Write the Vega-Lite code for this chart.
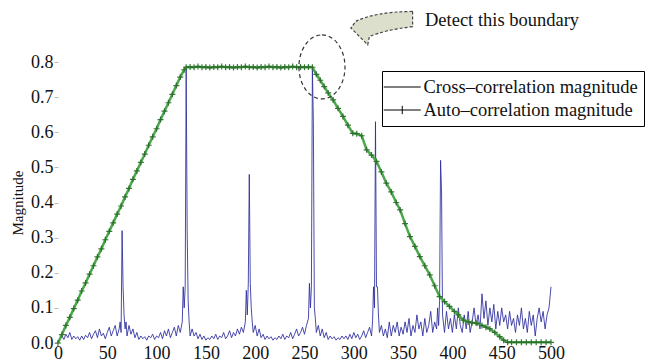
{
  "$schema": "https://vega.github.io/schema/vega-lite/v6.json",
  "autosize": {"type": "none"},
  "width": 493,
  "height": 281,
  "padding": {"left": 58, "top": 62, "right": 106, "bottom": 18},
  "background": "white",
  "config": {
    "view": {"stroke": null},
    "font": "Liberation Serif",
    "axis": {"grid": false, "labelFont": "Liberation Serif", "titleFont": "Liberation Serif"}
  },
  "datasets": {
    "lines": [
      {"series":"Cross–correlation magnitude","x":0,"y":0.005},{"series":"Cross–correlation magnitude","x":2,"y":0.012},{"series":"Cross–correlation magnitude","x":4,"y":0.02},{"series":"Cross–correlation magnitude","x":6,"y":0.01},{"series":"Cross–correlation magnitude","x":8,"y":0.025},{"series":"Cross–correlation magnitude","x":10,"y":0.015},{"series":"Cross–correlation magnitude","x":12,"y":0.03},{"series":"Cross–correlation magnitude","x":14,"y":0.01},{"series":"Cross–correlation magnitude","x":16,"y":0.02},{"series":"Cross–correlation magnitude","x":18,"y":0.012},{"series":"Cross–correlation magnitude","x":20,"y":0.018},{"series":"Cross–correlation magnitude","x":22,"y":0.008},{"series":"Cross–correlation magnitude","x":24,"y":0.02},{"series":"Cross–correlation magnitude","x":26,"y":0.01},{"series":"Cross–correlation magnitude","x":28,"y":0.022},{"series":"Cross–correlation magnitude","x":30,"y":0.015},{"series":"Cross–correlation magnitude","x":32,"y":0.03},{"series":"Cross–correlation magnitude","x":34,"y":0.012},{"series":"Cross–correlation magnitude","x":36,"y":0.025},{"series":"Cross–correlation magnitude","x":38,"y":0.035},{"series":"Cross–correlation magnitude","x":40,"y":0.015},{"series":"Cross–correlation magnitude","x":42,"y":0.04},{"series":"Cross–correlation magnitude","x":44,"y":0.02},{"series":"Cross–correlation magnitude","x":46,"y":0.028},{"series":"Cross–correlation magnitude","x":48,"y":0.012},{"series":"Cross–correlation magnitude","x":50,"y":0.03},{"series":"Cross–correlation magnitude","x":52,"y":0.045},{"series":"Cross–correlation magnitude","x":54,"y":0.02},{"series":"Cross–correlation magnitude","x":56,"y":0.035},{"series":"Cross–correlation magnitude","x":58,"y":0.05},{"series":"Cross–correlation magnitude","x":60,"y":0.02},{"series":"Cross–correlation magnitude","x":62,"y":0.04},{"series":"Cross–correlation magnitude","x":63,"y":0.06},{"series":"Cross–correlation magnitude","x":64,"y":0.03},{"series":"Cross–correlation magnitude","x":65,"y":0.32},{"series":"Cross–correlation magnitude","x":66,"y":0.16},{"series":"Cross–correlation magnitude","x":67,"y":0.08},{"series":"Cross–correlation magnitude","x":68,"y":0.04},{"series":"Cross–correlation magnitude","x":69,"y":0.06},{"series":"Cross–correlation magnitude","x":70,"y":0.02},{"series":"Cross–correlation magnitude","x":72,"y":0.05},{"series":"Cross–correlation magnitude","x":74,"y":0.025},{"series":"Cross–correlation magnitude","x":76,"y":0.04},{"series":"Cross–correlation magnitude","x":78,"y":0.015},{"series":"Cross–correlation magnitude","x":80,"y":0.03},{"series":"Cross–correlation magnitude","x":82,"y":0.01},{"series":"Cross–correlation magnitude","x":84,"y":0.02},{"series":"Cross–correlation magnitude","x":86,"y":0.012},{"series":"Cross–correlation magnitude","x":88,"y":0.018},{"series":"Cross–correlation magnitude","x":90,"y":0.008},{"series":"Cross–correlation magnitude","x":92,"y":0.02},{"series":"Cross–correlation magnitude","x":94,"y":0.015},{"series":"Cross–correlation magnitude","x":96,"y":0.025},{"series":"Cross–correlation magnitude","x":98,"y":0.01},{"series":"Cross–correlation magnitude","x":100,"y":0.02},{"series":"Cross–correlation magnitude","x":102,"y":0.015},{"series":"Cross–correlation magnitude","x":104,"y":0.03},{"series":"Cross–correlation magnitude","x":106,"y":0.012},{"series":"Cross–correlation magnitude","x":108,"y":0.035},{"series":"Cross–correlation magnitude","x":110,"y":0.02},{"series":"Cross–correlation magnitude","x":112,"y":0.04},{"series":"Cross–correlation magnitude","x":114,"y":0.015},{"series":"Cross–correlation magnitude","x":116,"y":0.03},{"series":"Cross–correlation magnitude","x":118,"y":0.045},{"series":"Cross–correlation magnitude","x":120,"y":0.02},{"series":"Cross–correlation magnitude","x":122,"y":0.05},{"series":"Cross–correlation magnitude","x":124,"y":0.03},{"series":"Cross–correlation magnitude","x":126,"y":0.06},{"series":"Cross–correlation magnitude","x":127,"y":0.16},{"series":"Cross–correlation magnitude","x":128,"y":0.1},{"series":"Cross–correlation magnitude","x":129,"y":0.16},{"series":"Cross–correlation magnitude","x":130,"y":0.78},{"series":"Cross–correlation magnitude","x":131,"y":0.32},{"series":"Cross–correlation magnitude","x":132,"y":0.12},{"series":"Cross–correlation magnitude","x":133,"y":0.06},{"series":"Cross–correlation magnitude","x":134,"y":0.02},{"series":"Cross–correlation magnitude","x":136,"y":0.04},{"series":"Cross–correlation magnitude","x":138,"y":0.02},{"series":"Cross–correlation magnitude","x":140,"y":0.03},{"series":"Cross–correlation magnitude","x":142,"y":0.012},{"series":"Cross–correlation magnitude","x":144,"y":0.025},{"series":"Cross–correlation magnitude","x":146,"y":0.01},{"series":"Cross–correlation magnitude","x":148,"y":0.02},{"series":"Cross–correlation magnitude","x":150,"y":0.008},{"series":"Cross–correlation magnitude","x":152,"y":0.015},{"series":"Cross–correlation magnitude","x":154,"y":0.01},{"series":"Cross–correlation magnitude","x":156,"y":0.02},{"series":"Cross–correlation magnitude","x":158,"y":0.012},{"series":"Cross–correlation magnitude","x":160,"y":0.025},{"series":"Cross–correlation magnitude","x":162,"y":0.01},{"series":"Cross–correlation magnitude","x":164,"y":0.02},{"series":"Cross–correlation magnitude","x":166,"y":0.015},{"series":"Cross–correlation magnitude","x":168,"y":0.03},{"series":"Cross–correlation magnitude","x":170,"y":0.012},{"series":"Cross–correlation magnitude","x":172,"y":0.02},{"series":"Cross–correlation magnitude","x":174,"y":0.035},{"series":"Cross–correlation magnitude","x":176,"y":0.015},{"series":"Cross–correlation magnitude","x":178,"y":0.03},{"series":"Cross–correlation magnitude","x":180,"y":0.02},{"series":"Cross–correlation magnitude","x":182,"y":0.04},{"series":"Cross–correlation magnitude","x":184,"y":0.025},{"series":"Cross–correlation magnitude","x":186,"y":0.045},{"series":"Cross–correlation magnitude","x":188,"y":0.03},{"series":"Cross–correlation magnitude","x":190,"y":0.06},{"series":"Cross–correlation magnitude","x":191,"y":0.15},{"series":"Cross–correlation magnitude","x":192,"y":0.08},{"series":"Cross–correlation magnitude","x":193,"y":0.17},{"series":"Cross–correlation magnitude","x":194,"y":0.48},{"series":"Cross–correlation magnitude","x":195,"y":0.17},{"series":"Cross–correlation magnitude","x":196,"y":0.1},{"series":"Cross–correlation magnitude","x":197,"y":0.06},{"series":"Cross–correlation magnitude","x":198,"y":0.03},{"series":"Cross–correlation magnitude","x":200,"y":0.05},{"series":"Cross–correlation magnitude","x":202,"y":0.02},{"series":"Cross–correlation magnitude","x":204,"y":0.04},{"series":"Cross–correlation magnitude","x":206,"y":0.015},{"series":"Cross–correlation magnitude","x":208,"y":0.025},{"series":"Cross–correlation magnitude","x":210,"y":0.01},{"series":"Cross–correlation magnitude","x":212,"y":0.02},{"series":"Cross–correlation magnitude","x":214,"y":0.012},{"series":"Cross–correlation magnitude","x":216,"y":0.018},{"series":"Cross–correlation magnitude","x":218,"y":0.008},{"series":"Cross–correlation magnitude","x":220,"y":0.015},{"series":"Cross–correlation magnitude","x":222,"y":0.01},{"series":"Cross–correlation magnitude","x":224,"y":0.02},{"series":"Cross–correlation magnitude","x":226,"y":0.012},{"series":"Cross–correlation magnitude","x":228,"y":0.025},{"series":"Cross–correlation magnitude","x":230,"y":0.01},{"series":"Cross–correlation magnitude","x":232,"y":0.02},{"series":"Cross–correlation magnitude","x":234,"y":0.015},{"series":"Cross–correlation magnitude","x":236,"y":0.03},{"series":"Cross–correlation magnitude","x":238,"y":0.012},{"series":"Cross–correlation magnitude","x":240,"y":0.025},{"series":"Cross–correlation magnitude","x":242,"y":0.04},{"series":"Cross–correlation magnitude","x":244,"y":0.02},{"series":"Cross–correlation magnitude","x":246,"y":0.03},{"series":"Cross–correlation magnitude","x":248,"y":0.045},{"series":"Cross–correlation magnitude","x":250,"y":0.025},{"series":"Cross–correlation magnitude","x":252,"y":0.05},{"series":"Cross–correlation magnitude","x":254,"y":0.07},{"series":"Cross–correlation magnitude","x":255,"y":0.17},{"series":"Cross–correlation magnitude","x":256,"y":0.1},{"series":"Cross–correlation magnitude","x":257,"y":0.16},{"series":"Cross–correlation magnitude","x":258,"y":0.78},{"series":"Cross–correlation magnitude","x":259,"y":0.63},{"series":"Cross–correlation magnitude","x":260,"y":0.1},{"series":"Cross–correlation magnitude","x":261,"y":0.07},{"series":"Cross–correlation magnitude","x":262,"y":0.03},{"series":"Cross–correlation magnitude","x":264,"y":0.05},{"series":"Cross–correlation magnitude","x":266,"y":0.02},{"series":"Cross–correlation magnitude","x":268,"y":0.04},{"series":"Cross–correlation magnitude","x":270,"y":0.015},{"series":"Cross–correlation magnitude","x":272,"y":0.03},{"series":"Cross–correlation magnitude","x":274,"y":0.01},{"series":"Cross–correlation magnitude","x":276,"y":0.02},{"series":"Cross–correlation magnitude","x":278,"y":0.012},{"series":"Cross–correlation magnitude","x":280,"y":0.018},{"series":"Cross–correlation magnitude","x":282,"y":0.008},{"series":"Cross–correlation magnitude","x":284,"y":0.015},{"series":"Cross–correlation magnitude","x":286,"y":0.01},{"series":"Cross–correlation magnitude","x":288,"y":0.02},{"series":"Cross–correlation magnitude","x":290,"y":0.012},{"series":"Cross–correlation magnitude","x":292,"y":0.02},{"series":"Cross–correlation magnitude","x":294,"y":0.01},{"series":"Cross–correlation magnitude","x":296,"y":0.025},{"series":"Cross–correlation magnitude","x":298,"y":0.012},{"series":"Cross–correlation magnitude","x":300,"y":0.03},{"series":"Cross–correlation magnitude","x":302,"y":0.015},{"series":"Cross–correlation magnitude","x":304,"y":0.025},{"series":"Cross–correlation magnitude","x":306,"y":0.01},{"series":"Cross–correlation magnitude","x":308,"y":0.02},{"series":"Cross–correlation magnitude","x":310,"y":0.035},{"series":"Cross–correlation magnitude","x":312,"y":0.015},{"series":"Cross–correlation magnitude","x":314,"y":0.03},{"series":"Cross–correlation magnitude","x":316,"y":0.045},{"series":"Cross–correlation magnitude","x":318,"y":0.02},{"series":"Cross–correlation magnitude","x":319,"y":0.06},{"series":"Cross–correlation magnitude","x":320,"y":0.16},{"series":"Cross–correlation magnitude","x":321,"y":0.1},{"series":"Cross–correlation magnitude","x":322,"y":0.63},{"series":"Cross–correlation magnitude","x":323,"y":0.16},{"series":"Cross–correlation magnitude","x":324,"y":0.16},{"series":"Cross–correlation magnitude","x":325,"y":0.08},{"series":"Cross–correlation magnitude","x":326,"y":0.03},{"series":"Cross–correlation magnitude","x":328,"y":0.05},{"series":"Cross–correlation magnitude","x":330,"y":0.02},{"series":"Cross–correlation magnitude","x":332,"y":0.04},{"series":"Cross–correlation magnitude","x":334,"y":0.015},{"series":"Cross–correlation magnitude","x":336,"y":0.06},{"series":"Cross–correlation magnitude","x":338,"y":0.02},{"series":"Cross–correlation magnitude","x":340,"y":0.05},{"series":"Cross–correlation magnitude","x":342,"y":0.03},{"series":"Cross–correlation magnitude","x":344,"y":0.06},{"series":"Cross–correlation magnitude","x":346,"y":0.02},{"series":"Cross–correlation magnitude","x":348,"y":0.045},{"series":"Cross–correlation magnitude","x":350,"y":0.025},{"series":"Cross–correlation magnitude","x":352,"y":0.06},{"series":"Cross–correlation magnitude","x":354,"y":0.03},{"series":"Cross–correlation magnitude","x":356,"y":0.07},{"series":"Cross–correlation magnitude","x":358,"y":0.02},{"series":"Cross–correlation magnitude","x":360,"y":0.05},{"series":"Cross–correlation magnitude","x":362,"y":0.03},{"series":"Cross–correlation magnitude","x":364,"y":0.08},{"series":"Cross–correlation magnitude","x":366,"y":0.04},{"series":"Cross–correlation magnitude","x":368,"y":0.06},{"series":"Cross–correlation magnitude","x":370,"y":0.02},{"series":"Cross–correlation magnitude","x":372,"y":0.07},{"series":"Cross–correlation magnitude","x":374,"y":0.03},{"series":"Cross–correlation magnitude","x":376,"y":0.05},{"series":"Cross–correlation magnitude","x":378,"y":0.09},{"series":"Cross–correlation magnitude","x":380,"y":0.03},{"series":"Cross–correlation magnitude","x":382,"y":0.06},{"series":"Cross–correlation magnitude","x":384,"y":0.04},{"series":"Cross–correlation magnitude","x":385,"y":0.1},{"series":"Cross–correlation magnitude","x":386,"y":0.05},{"series":"Cross–correlation magnitude","x":387,"y":0.12},{"series":"Cross–correlation magnitude","x":388,"y":0.52},{"series":"Cross–correlation magnitude","x":389,"y":0.43},{"series":"Cross–correlation magnitude","x":390,"y":0.08},{"series":"Cross–correlation magnitude","x":392,"y":0.03},{"series":"Cross–correlation magnitude","x":394,"y":0.09},{"series":"Cross–correlation magnitude","x":396,"y":0.04},{"series":"Cross–correlation magnitude","x":398,"y":0.07},{"series":"Cross–correlation magnitude","x":400,"y":0.03},{"series":"Cross–correlation magnitude","x":402,"y":0.08},{"series":"Cross–correlation magnitude","x":404,"y":0.04},{"series":"Cross–correlation magnitude","x":406,"y":0.1},{"series":"Cross–correlation magnitude","x":408,"y":0.05},{"series":"Cross–correlation magnitude","x":410,"y":0.03},{"series":"Cross–correlation magnitude","x":412,"y":0.08},{"series":"Cross–correlation magnitude","x":414,"y":0.04},{"series":"Cross–correlation magnitude","x":416,"y":0.09},{"series":"Cross–correlation magnitude","x":418,"y":0.03},{"series":"Cross–correlation magnitude","x":420,"y":0.06},{"series":"Cross–correlation magnitude","x":422,"y":0.1},{"series":"Cross–correlation magnitude","x":424,"y":0.05},{"series":"Cross–correlation magnitude","x":426,"y":0.08},{"series":"Cross–correlation magnitude","x":428,"y":0.04},{"series":"Cross–correlation magnitude","x":430,"y":0.14},{"series":"Cross–correlation magnitude","x":432,"y":0.07},{"series":"Cross–correlation magnitude","x":434,"y":0.12},{"series":"Cross–correlation magnitude","x":436,"y":0.05},{"series":"Cross–correlation magnitude","x":438,"y":0.1},{"series":"Cross–correlation magnitude","x":440,"y":0.06},{"series":"Cross–correlation magnitude","x":442,"y":0.11},{"series":"Cross–correlation magnitude","x":444,"y":0.04},{"series":"Cross–correlation magnitude","x":446,"y":0.09},{"series":"Cross–correlation magnitude","x":448,"y":0.05},{"series":"Cross–correlation magnitude","x":450,"y":0.1},{"series":"Cross–correlation magnitude","x":452,"y":0.06},{"series":"Cross–correlation magnitude","x":454,"y":0.08},{"series":"Cross–correlation magnitude","x":456,"y":0.04},{"series":"Cross–correlation magnitude","x":458,"y":0.09},{"series":"Cross–correlation magnitude","x":460,"y":0.05},{"series":"Cross–correlation magnitude","x":462,"y":0.07},{"series":"Cross–correlation magnitude","x":464,"y":0.03},{"series":"Cross–correlation magnitude","x":466,"y":0.08},{"series":"Cross–correlation magnitude","x":468,"y":0.05},{"series":"Cross–correlation magnitude","x":470,"y":0.1},{"series":"Cross–correlation magnitude","x":472,"y":0.04},{"series":"Cross–correlation magnitude","x":474,"y":0.07},{"series":"Cross–correlation magnitude","x":476,"y":0.03},{"series":"Cross–correlation magnitude","x":478,"y":0.09},{"series":"Cross–correlation magnitude","x":480,"y":0.05},{"series":"Cross–correlation magnitude","x":482,"y":0.08},{"series":"Cross–correlation magnitude","x":484,"y":0.02},{"series":"Cross–correlation magnitude","x":486,"y":0.07},{"series":"Cross–correlation magnitude","x":488,"y":0.1},{"series":"Cross–correlation magnitude","x":490,"y":0.06},{"series":"Cross–correlation magnitude","x":492,"y":0.09},{"series":"Cross–correlation magnitude","x":494,"y":0.04},{"series":"Cross–correlation magnitude","x":496,"y":0.08},{"series":"Cross–correlation magnitude","x":498,"y":0.1},{"series":"Cross–correlation magnitude","x":500,"y":0.16},
      {"series":"Auto–correlation magnitude","x":0,"y":0.0},{"series":"Auto–correlation magnitude","x":4,"y":0.024},{"series":"Auto–correlation magnitude","x":8,"y":0.05},{"series":"Auto–correlation magnitude","x":12,"y":0.073},{"series":"Auto–correlation magnitude","x":16,"y":0.098},{"series":"Auto–correlation magnitude","x":20,"y":0.122},{"series":"Auto–correlation magnitude","x":24,"y":0.148},{"series":"Auto–correlation magnitude","x":28,"y":0.171},{"series":"Auto–correlation magnitude","x":32,"y":0.196},{"series":"Auto–correlation magnitude","x":36,"y":0.22},{"series":"Auto–correlation magnitude","x":40,"y":0.245},{"series":"Auto–correlation magnitude","x":44,"y":0.268},{"series":"Auto–correlation magnitude","x":48,"y":0.294},{"series":"Auto–correlation magnitude","x":52,"y":0.318},{"series":"Auto–correlation magnitude","x":56,"y":0.342},{"series":"Auto–correlation magnitude","x":60,"y":0.367},{"series":"Auto–correlation magnitude","x":64,"y":0.39},{"series":"Auto–correlation magnitude","x":68,"y":0.416},{"series":"Auto–correlation magnitude","x":72,"y":0.44},{"series":"Auto–correlation magnitude","x":76,"y":0.466},{"series":"Auto–correlation magnitude","x":80,"y":0.49},{"series":"Auto–correlation magnitude","x":84,"y":0.514},{"series":"Auto–correlation magnitude","x":88,"y":0.538},{"series":"Auto–correlation magnitude","x":92,"y":0.563},{"series":"Auto–correlation magnitude","x":96,"y":0.587},{"series":"Auto–correlation magnitude","x":100,"y":0.61},{"series":"Auto–correlation magnitude","x":104,"y":0.636},{"series":"Auto–correlation magnitude","x":108,"y":0.66},{"series":"Auto–correlation magnitude","x":112,"y":0.684},{"series":"Auto–correlation magnitude","x":116,"y":0.708},{"series":"Auto–correlation magnitude","x":120,"y":0.733},{"series":"Auto–correlation magnitude","x":124,"y":0.757},{"series":"Auto–correlation magnitude","x":128,"y":0.778},{"series":"Auto–correlation magnitude","x":130,"y":0.785},
      {"series":"Auto–correlation magnitude","x":134,"y":0.786},{"series":"Auto–correlation magnitude","x":138,"y":0.785},{"series":"Auto–correlation magnitude","x":142,"y":0.787},{"series":"Auto–correlation magnitude","x":146,"y":0.785},{"series":"Auto–correlation magnitude","x":150,"y":0.786},{"series":"Auto–correlation magnitude","x":154,"y":0.784},{"series":"Auto–correlation magnitude","x":158,"y":0.786},{"series":"Auto–correlation magnitude","x":162,"y":0.785},{"series":"Auto–correlation magnitude","x":166,"y":0.787},{"series":"Auto–correlation magnitude","x":170,"y":0.785},{"series":"Auto–correlation magnitude","x":174,"y":0.786},{"series":"Auto–correlation magnitude","x":178,"y":0.784},{"series":"Auto–correlation magnitude","x":182,"y":0.786},{"series":"Auto–correlation magnitude","x":186,"y":0.785},{"series":"Auto–correlation magnitude","x":190,"y":0.787},{"series":"Auto–correlation magnitude","x":194,"y":0.785},{"series":"Auto–correlation magnitude","x":198,"y":0.786},{"series":"Auto–correlation magnitude","x":202,"y":0.784},{"series":"Auto–correlation magnitude","x":206,"y":0.786},{"series":"Auto–correlation magnitude","x":210,"y":0.785},{"series":"Auto–correlation magnitude","x":214,"y":0.787},{"series":"Auto–correlation magnitude","x":218,"y":0.785},{"series":"Auto–correlation magnitude","x":222,"y":0.786},{"series":"Auto–correlation magnitude","x":226,"y":0.784},{"series":"Auto–correlation magnitude","x":230,"y":0.786},{"series":"Auto–correlation magnitude","x":234,"y":0.785},{"series":"Auto–correlation magnitude","x":238,"y":0.787},{"series":"Auto–correlation magnitude","x":242,"y":0.785},{"series":"Auto–correlation magnitude","x":246,"y":0.786},{"series":"Auto–correlation magnitude","x":250,"y":0.785},{"series":"Auto–correlation magnitude","x":254,"y":0.786},{"series":"Auto–correlation magnitude","x":258,"y":0.785},
      {"series":"Auto–correlation magnitude","x":262,"y":0.765},{"series":"Auto–correlation magnitude","x":266,"y":0.748},{"series":"Auto–correlation magnitude","x":270,"y":0.73},{"series":"Auto–correlation magnitude","x":274,"y":0.712},{"series":"Auto–correlation magnitude","x":279,"y":0.692},{"series":"Auto–correlation magnitude","x":284,"y":0.668},{"series":"Auto–correlation magnitude","x":289,"y":0.645},{"series":"Auto–correlation magnitude","x":294,"y":0.62},{"series":"Auto–correlation magnitude","x":299,"y":0.597},{"series":"Auto–correlation magnitude","x":303,"y":0.596},{"series":"Auto–correlation magnitude","x":308,"y":0.59},{"series":"Auto–correlation magnitude","x":313,"y":0.55},{"series":"Auto–correlation magnitude","x":318,"y":0.535},{"series":"Auto–correlation magnitude","x":323,"y":0.517},{"series":"Auto–correlation magnitude","x":328,"y":0.487},{"series":"Auto–correlation magnitude","x":333,"y":0.455},{"series":"Auto–correlation magnitude","x":338,"y":0.43},{"series":"Auto–correlation magnitude","x":343,"y":0.4},{"series":"Auto–correlation magnitude","x":347,"y":0.379},{"series":"Auto–correlation magnitude","x":352,"y":0.34},{"series":"Auto–correlation magnitude","x":357,"y":0.303},{"series":"Auto–correlation magnitude","x":362,"y":0.275},{"series":"Auto–correlation magnitude","x":367,"y":0.246},{"series":"Auto–correlation magnitude","x":372,"y":0.22},{"series":"Auto–correlation magnitude","x":377,"y":0.194},{"series":"Auto–correlation magnitude","x":382,"y":0.163},{"series":"Auto–correlation magnitude","x":387,"y":0.132},{"series":"Auto–correlation magnitude","x":392,"y":0.118},{"series":"Auto–correlation magnitude","x":397,"y":0.104},{"series":"Auto–correlation magnitude","x":402,"y":0.09},{"series":"Auto–correlation magnitude","x":406,"y":0.08},{"series":"Auto–correlation magnitude","x":411,"y":0.065},{"series":"Auto–correlation magnitude","x":416,"y":0.06},{"series":"Auto–correlation magnitude","x":420,"y":0.058},{"series":"Auto–correlation magnitude","x":425,"y":0.056},{"series":"Auto–correlation magnitude","x":430,"y":0.05},{"series":"Auto–correlation magnitude","x":434,"y":0.045},{"series":"Auto–correlation magnitude","x":438,"y":0.04},{"series":"Auto–correlation magnitude","x":443,"y":0.03},{"series":"Auto–correlation magnitude","x":448,"y":0.018},{"series":"Auto–correlation magnitude","x":452,"y":0.008},{"series":"Auto–correlation magnitude","x":456,"y":0.002},{"series":"Auto–correlation magnitude","x":460,"y":0.002},{"series":"Auto–correlation magnitude","x":465,"y":0.002},{"series":"Auto–correlation magnitude","x":470,"y":0.002},{"series":"Auto–correlation magnitude","x":475,"y":0.002},{"series":"Auto–correlation magnitude","x":480,"y":0.002},{"series":"Auto–correlation magnitude","x":485,"y":0.002},{"series":"Auto–correlation magnitude","x":490,"y":0.002},{"series":"Auto–correlation magnitude","x":495,"y":0.002},{"series":"Auto–correlation magnitude","x":500,"y":0.002}
    ],
    "ellipse": [{"x": 267.7, "y": 0.786}],
    "arrow": [{"x": 328.5, "y": 0.896}],
    "note": [{"x": 372.2, "y": 0.92, "text": "Detect this boundary"}]
  },
  "encoding": {
    "x": {"field": "x", "type": "quantitative", "scale": {"domain": [0, 500], "nice": false},
          "axis": {"values": [0,50,100,150,200,250,300,350,400,450,500], "title": null, "domain": false, "ticks": false, "labelFont": "Liberation Serif", "labelColor": "#111", "labelFontSize": 18, "labelPadding": 1, "labelFlush": false, "labelOverlap": false}},
    "y": {"field": "y", "type": "quantitative", "scale": {"domain": [0, 0.8], "nice": false, "zero": true},
          "axis": {"values": [0,0.1,0.2,0.3,0.4,0.5,0.6,0.7,0.8], "format": ".1f", "title": "Magnitude", "titleFont": "Liberation Serif", "titleColor": "#111", "titleFontSize": 15, "titleFontWeight": "normal", "titlePadding": 5, "domain": false, "tickSize": 4, "tickColor": "#bbbbbb", "labelFont": "Liberation Serif", "labelColor": "#111", "labelFontSize": 18, "labelPadding": 1, "labelFlush": false, "labelOverlap": false}}
  },
  "layer": [
    {
      "data": {"name": "lines"},
      "transform": [{"filter": {"field": "series", "equal": "Cross–correlation magnitude"}}],
      "mark": {"type": "line", "stroke": "#2b2b9e", "strokeWidth": 1, "opacity": 0.85}
    },
    {
      "data": {"name": "lines"},
      "transform": [{"filter": {"field": "series", "equal": "Auto–correlation magnitude"}}],
      "mark": {"type": "line", "stroke": "#4aa84a", "strokeWidth": 2.5}
    },
    {
      "data": {"name": "lines"},
      "transform": [{"filter": {"field": "series", "equal": "Auto–correlation magnitude"}}],
      "mark": {"type": "point", "shape": "M-1,0H1M0,-1V1", "size": 36, "filled": false, "stroke": "#2a6a2a", "strokeWidth": 1.2, "opacity": 0.9}
    },
    {
      "data": {"name": "lines"},
      "mark": {"type": "point", "filled": false, "stroke": "#000", "strokeWidth": 1, "opacity": 0},
      "encoding": {
        "shape": {"field": "series", "type": "nominal",
          "scale": {"domain": ["Cross–correlation magnitude", "Auto–correlation magnitude"], "range": ["M-2,0H2", "M-2,0H2M0,-0.45V0.45"]},
          "legend": {
            "title": null, "orient": "none", "legendX": 324, "legendY": 9,
            "strokeColor": "#000", "padding": 6, "fillColor": "white",
            "symbolSize": 342, "symbolOffset": 4.25, "symbolStrokeWidth": 1, "symbolStrokeColor": "#000",
            "labelFont": "Liberation Serif", "labelFontSize": 18.5, "labelColor": "#111", "labelOffset": 11.25, "labelLimit": 400,
            "rowPadding": 3,
            "encode": {"symbols": {"update": {"stroke": {"value": "#000"}, "opacity": {"value": 1}, "strokeWidth": {"value": 1}}}}
          }}
      }
    },
    {
      "data": {"name": "ellipse"},
      "mark": {"type": "point", "shape": "M0,-1A0.72,1 0 1,1 0,1A0.72,1 0 1,1 0,-1Z", "size": 4096, "filled": false, "stroke": "#333", "strokeWidth": 1.2, "strokeDash": [4, 3], "opacity": 1}
    },
    {
      "data": {"name": "arrow"},
      "mark": {"type": "point", "shape": "M0.93,-0.51Q-0.2,-0.5 -0.79,-0.21L-0.94,-0.01L-0.43,0.5L-0.38,0.25Q0.1,0.05 0.93,-0.05Z", "size": 4356, "filled": true, "fill": "#dcdfcc", "fillOpacity": 1, "stroke": "#444", "strokeWidth": 1.2, "strokeDash": [3, 2], "opacity": 1}
    },
    {
      "data": {"name": "note"},
      "mark": {"type": "text", "align": "left", "baseline": "middle", "font": "Liberation Serif", "fontSize": 18.5, "color": "#111"},
      "encoding": {
        "text": {"field": "text"}
      }
    }
  ]
}
